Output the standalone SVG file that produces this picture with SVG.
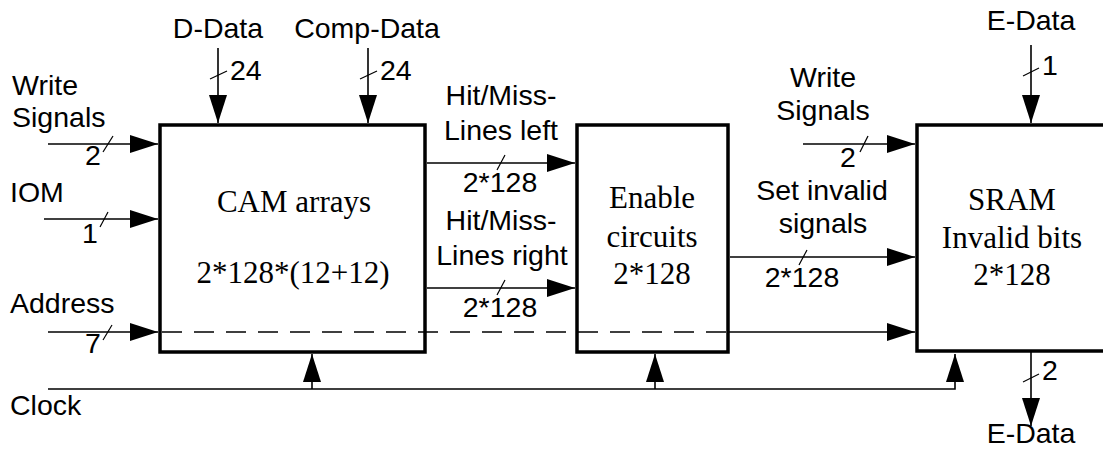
<svg xmlns="http://www.w3.org/2000/svg" width="1103" height="450" viewBox="0 0 1103 450">
<style>
.box{fill:#fff;stroke:#000;stroke-width:3.5}
.ln{stroke:#000;stroke-width:1.6;fill:none}
.sl{stroke:#000;stroke-width:1.2}
.dash{stroke:#000;stroke-width:1.6;stroke-dasharray:20 12;fill:none}
.s{font-family:"Liberation Sans",Arial,sans-serif;font-size:28.5px;fill:#000}
.m{text-anchor:middle}
.r{font-family:"Liberation Serif","Times New Roman",serif;font-size:31px;fill:#000;text-anchor:middle}
</style>
<defs>
<marker id="ah" markerUnits="userSpaceOnUse" markerWidth="28" markerHeight="18" refX="28" refY="9" orient="auto">
<path d="M0,0 L28,9 L0,18 z" fill="#000"/>
</marker>
</defs>
<rect width="1103" height="450" fill="#fff"/>
<g id="cam">
<rect class="box" x="160" y="125" width="265" height="227"/>
<text class="r" x="294" y="212">CAM arrays</text>
<text class="r" x="293" y="283">2*128*(12+12)</text>
</g>
<g id="enable">
<rect class="box" x="577" y="125" width="151" height="227"/>
<text class="r" x="652" y="208">Enable</text>
<text class="r" x="652" y="247">circuits</text>
<text class="r" x="652" y="284">2*128</text>
</g>
<g id="sram">
<rect class="box" x="917" y="125" width="200" height="226"/>
<text class="r" x="1012" y="210">SRAM</text>
<text class="r" x="1012" y="248">Invalid bits</text>
<text class="r" x="1012" y="285">2*128</text>
</g>
<g id="connectors">
<line class="ln" x1="218" y1="48" x2="218" y2="123" marker-end="url(#ah)"/>
<line class="ln" x1="368" y1="48" x2="368" y2="123" marker-end="url(#ah)"/>
<line class="ln" x1="1031" y1="45" x2="1031" y2="123" marker-end="url(#ah)"/>
<line class="ln" x1="1031" y1="352" x2="1031" y2="426" marker-end="url(#ah)"/>
<line class="ln" x1="48" y1="144" x2="158" y2="144" marker-end="url(#ah)"/>
<line class="ln" x1="44" y1="219" x2="158" y2="219" marker-end="url(#ah)"/>
<line class="ln" x1="48" y1="332" x2="158" y2="332" marker-end="url(#ah)"/>
<line class="dash" x1="162" y1="332" x2="728" y2="332"/>
<line class="ln" x1="728" y1="332" x2="915" y2="332" marker-end="url(#ah)"/>
<line class="ln" x1="427" y1="163" x2="575" y2="163" marker-end="url(#ah)"/>
<line class="ln" x1="427" y1="288" x2="575" y2="288" marker-end="url(#ah)"/>
<line class="ln" x1="730" y1="257" x2="915" y2="257" marker-end="url(#ah)"/>
<line class="ln" x1="803" y1="144" x2="915" y2="144" marker-end="url(#ah)"/>
<polyline class="ln" points="48,389 955,389 955,354" marker-end="url(#ah)"/>
<line class="ln" x1="312" y1="389" x2="312" y2="354" marker-end="url(#ah)"/>
<line class="ln" x1="655" y1="389" x2="655" y2="354" marker-end="url(#ah)"/>
<line class="sl" x1="210" y1="79" x2="227" y2="71"/>
<line class="sl" x1="360" y1="79" x2="377" y2="71"/>
<line class="sl" x1="1023" y1="76" x2="1039" y2="68"/>
<line class="sl" x1="1023" y1="382" x2="1039" y2="374"/>
<line class="sl" x1="103" y1="152" x2="113" y2="136"/>
<line class="sl" x1="100" y1="227" x2="108" y2="212"/>
<line class="sl" x1="103" y1="340" x2="112" y2="325"/>
<line class="sl" x1="497" y1="170" x2="505" y2="155"/>
<line class="sl" x1="497" y1="295" x2="505" y2="280"/>
<line class="sl" x1="799" y1="265" x2="807" y2="250"/>
<line class="sl" x1="860" y1="152" x2="868" y2="136"/>
</g>
<g id="labels">
<text class="s m" x="218" y="38">D-Data</text>
<text class="s m" x="367" y="38">Comp-Data</text>
<text class="s" x="230" y="80">24</text>
<text class="s" x="380" y="80">24</text>
<text class="s m" x="1031" y="30">E-Data</text>
<text class="s" x="1042" y="75">1</text>
<text class="s" x="1042" y="380">2</text>
<text class="s m" x="1031" y="443">E-Data</text>
<text class="s" x="12" y="95">Write</text>
<text class="s" x="12" y="127">Signals</text>
<text class="s" x="85" y="165">2</text>
<text class="s" x="10" y="202">IOM</text>
<text class="s" x="82" y="243">1</text>
<text class="s" x="10" y="313">Address</text>
<text class="s" x="85" y="353">7</text>
<text class="s" x="10" y="415">Clock</text>
<text class="s m" x="501" y="105">Hit/Miss-</text>
<text class="s m" x="501" y="140">Lines left</text>
<text class="s m" x="500" y="192">2*128</text>
<text class="s m" x="501" y="230">Hit/Miss-</text>
<text class="s m" x="502" y="265">Lines right</text>
<text class="s m" x="500" y="317">2*128</text>
<text class="s m" x="823" y="87">Write</text>
<text class="s m" x="823" y="120">Signals</text>
<text class="s" x="840" y="167">2</text>
<text class="s m" x="822" y="200">Set invalid</text>
<text class="s m" x="823" y="233">signals</text>
<text class="s m" x="802" y="287">2*128</text>
</g>
</svg>
